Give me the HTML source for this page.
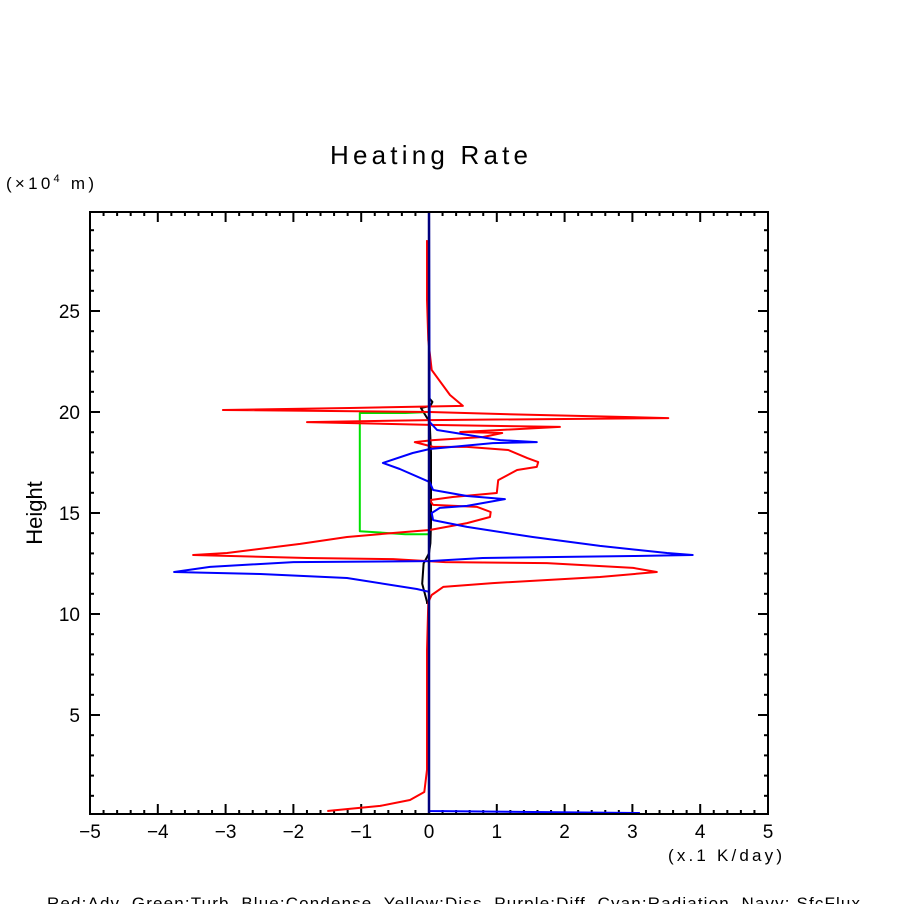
<!DOCTYPE html>
<html><head><meta charset="utf-8"><style>
body{margin:0;background:#fff;width:904px;height:904px;overflow:hidden}
svg text{font-family:"Liberation Sans",sans-serif;fill:#000;white-space:pre}
</style></head><body>
<svg id="chart" width="904" height="904" viewBox="0 0 904 904">
<text x="330" y="164" font-size="26" textLength="198" lengthAdjust="spacing">Heating Rate</text>
<text x="6" y="189" font-size="17" textLength="88" lengthAdjust="spacing">(×10<tspan font-size="11" dy="-7">4</tspan><tspan dy="7"> m)</tspan></text>
<text transform="translate(42,513) rotate(-90)" font-size="22" text-anchor="middle">Height</text>
<text x="668" y="861" font-size="17" textLength="114" lengthAdjust="spacing">(x.1 K/day)</text>
<text x="47" y="909" font-size="17" textLength="813" lengthAdjust="spacing" xml:space="preserve">Red:Adv  Green:Turb  Blue:Condense  Yellow:Diss  Purple:Diff  Cyan:Radiation  Navy: SfcFlux</text>
<g id="axes"></g>
<g id="series"></g>
<rect x="90" y="212" width="678" height="602" fill="none" stroke="#000" stroke-width="2"/>
</svg>
<script>
const xTicks=[-5,-4,-3,-2,-1,0,1,2,3,4,5];
const yTicks=[5,10,15,20,25];
const advX=[-1.50,-0.72,-0.28,-0.07,-0.03,-0.03,-0.01,0.04,0.21,0.94,2.52,3.36,3.01,1.74,0.24,-0.53,-1.80,-3.48,-2.98,-1.90,-1.21,-0.53,0.01,0.56,0.90,0.91,0.71,0.06,0.01,0.35,1.00,1.02,1.30,1.59,1.61,1.45,1.17,0.56,0.06,-0.21,0.06,0.80,1.08,0.46,1.05,1.93,0.01,-1.80,0.01,3.53,1.05,0.01,-3.04,-1.17,0.50,0.31,0.04,-0.01,-0.03,-0.03];
const advH=[0.25,0.50,0.79,1.19,2.28,8.22,10.59,10.94,11.34,11.53,11.83,12.08,12.28,12.52,12.57,12.72,12.77,12.92,13.02,13.47,13.81,14.01,14.16,14.50,14.80,15.05,15.30,15.40,15.64,15.79,15.99,16.63,17.13,17.28,17.52,17.72,18.12,18.27,18.27,18.51,18.61,18.76,18.96,19.01,19.11,19.26,19.36,19.50,19.60,19.70,19.90,20.00,20.10,20.20,20.30,20.84,22.08,23.56,25.54,28.51];
const turbX=[0,-0.35,-1.02,-1.02,-0.35,0];
const turbH=[13.95,13.95,14.1,19.95,19.95,20.0];
const condX=[3.11,0,0,0,-0.18,-1.21,-2.49,-3.76,-3.23,-2.0,0,0.79,3.01,3.89,3.51,2.52,1.53,0.56,0.06,0.04,0.16,0.56,1.12,0.56,0.06,0.01,-0.43,-0.68,-0.24,0.01,0.94,1.59,1.05,0.12,0.01,0];
const condH=[0.15,0.25,10.45,11.1,11.24,11.78,11.98,12.08,12.33,12.57,12.62,12.77,12.87,12.92,13.02,13.37,13.81,14.31,14.65,15.0,15.25,15.35,15.69,15.84,16.14,16.53,17.18,17.48,17.97,18.17,18.46,18.51,18.61,19.11,19.5,29.9];
const radX=[-0.03,-0.03,-0.1,-0.08,0,0.02,0.03,0.03,0.01,-0.12,0.02,0.05,0];
const radH=[10.5,10.6,11.5,12.5,13,13.5,14.5,18,19.5,20.2,20.3,20.5,20.7];
const sfcX=[0,0];
const sfcH=[0.1,29.9];

const X=v=>429+v*67.8;
const Y=h=>816-h*20.2;
const NS='http://www.w3.org/2000/svg';
const axes=document.getElementById('axes'),series=document.getElementById('series');
function line(x1,y1,x2,y2){const l=document.createElementNS(NS,'line');l.setAttribute('x1',x1);l.setAttribute('y1',y1);l.setAttribute('x2',x2);l.setAttribute('y2',y2);l.setAttribute('stroke','#000');l.setAttribute('stroke-width','2');axes.appendChild(l);return l;}
for(let i=-25;i<=25;i++){const v=i/5,x=X(v),len=(i%5===0)?10:4;
 const a=line(x,814,x,814-len);
 const b=line(x,212,x,212+len);}
for(let h=1;h<=29;h++){const y=Y(h),len=(h%5===0)?10:4;
 const a=line(90,y,90+len,y);
 const b=line(768,y,768-len,y);}
xTicks.forEach(v=>{const t=document.createElementNS(NS,'text');t.setAttribute('x',X(v));t.setAttribute('y',838);t.setAttribute('font-size','19');t.setAttribute('text-anchor','middle');t.textContent=(v<0?'\u2212'+(-v):v);
 
 
 axes.appendChild(t);});
yTicks.forEach(v=>{const t=document.createElementNS(NS,'text');t.setAttribute('x',80);t.setAttribute('y',Y(v)+7);t.setAttribute('font-size','19');t.setAttribute('text-anchor','end');t.textContent=v;
 
 
 axes.appendChild(t);});
function draw(xs,hs,color,w,name){const p=document.createElementNS(NS,'polyline');
 p.setAttribute('points',xs.map((v,i)=>X(v).toFixed(1)+','+Y(hs[i]).toFixed(1)).join(' '));
 p.setAttribute('fill','none');p.setAttribute('stroke',color);p.setAttribute('stroke-width',w);p.setAttribute('stroke-linejoin','round');
 
 
 series.appendChild(p);}
draw(radX,radH,'#000','2','radiation-line');
draw(turbX,turbH,'#00e000','2','turbulence-line');
draw(advX,advH,'#ff0000','2','advection-line');
draw(condX,condH,'#0000ff','2','condensation-line');
draw(sfcX,sfcH,'#00007f','2.5','surface-flux-line');
</script>
</body></html>
